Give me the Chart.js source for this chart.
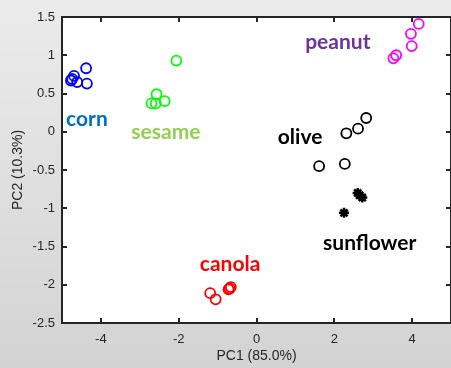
<!DOCTYPE html>
<html>
<head>
<meta charset="utf-8">
<script src="https://cdn.jsdelivr.net/npm/chart.js@4/dist/chart.umd.min.js"></script>
<style>
  html, body { margin: 0; padding: 0; background: #dcdcdc; }
  canvas { display: block; }
</style>
</head>
<body>
<canvas id="chart" width="451" height="368"></canvas>
<script>
// PCA scores (PC1, PC2)
var cornX = [-4.74, -4.69, -4.77, -4.61, -4.38, -4.36];
var cornY = [0.69, 0.73, 0.67, 0.65, 0.83, 0.63];
var sesameX = [-2.06, -2.70, -2.57, -2.59, -2.36];
var sesameY = [0.93, 0.37, 0.49, 0.37, 0.40];
var peanutX = [4.17, 3.97, 3.99, 3.59, 3.52];
var peanutY = [1.41, 1.28, 1.12, 1.0, 0.96];
var oliveX = [2.31, 2.61, 2.82, 1.61, 2.27];
var oliveY = [-0.02, 0.04, 0.18, -0.45, -0.42];
var sunflowerX = [2.6, 2.65, 2.72, 2.25];
var sunflowerY = [-0.8, -0.83, -0.86, -1.06];
var canolaX = [-1.19, -1.05, -0.72, -0.66, -0.69];
var canolaY = [-2.11, -2.19, -2.06, -2.03, -2.05];

// group names and where they sit (data coords, text centre / baseline)
var groupNames = ["corn", "sesame", "peanut", "olive", "sunflower", "canola"];
var groupColors = ["#0070c0", "#92d050", "#7030a0", "#000000", "#000000", "#ff0000"];
var labelX = [-4.36, -2.33, 2.09, 1.12, 2.91, -0.68];
var labelY = [0.08, -0.09, 1.08, -0.16, -1.55, -1.82];

var xTicks = [-4, -2, 0, 2, 4];
var yTicks = [-2.5, -2, -1.5, -1, -0.5, 0, 0.5, 1, 1.5];

function pts(xs, ys) {
  return xs.map((x, i) => ({ x: x, y: ys[i] }));
}

const bgPlugin = {
  id: "bg",
  beforeDraw(chart) {
    const c = chart.ctx;
    const a = chart.chartArea;
    const g = c.createLinearGradient(0, 0, 0, chart.height);
    g.addColorStop(0, "#ebebeb");
    g.addColorStop(1, "#d3d3d3");
    c.save();
    c.fillStyle = g;
    c.fillRect(0, 0, chart.width, chart.height);
    c.fillStyle = "#ffffff";
    c.fillRect(a.left, a.top, a.right - a.left, a.bottom - a.top);
    c.restore();
  },
};

// box with inward ticks, matlab style
const boxPlugin = {
  id: "box",
  afterDatasetsDraw(chart) {
    const c = chart.ctx;
    const a = chart.chartArea;
    const xs = chart.scales.x;
    const ys = chart.scales.y;
    c.save();
    c.strokeStyle = "#262626";
    c.lineWidth = 2;
    c.strokeRect(a.left, a.top, a.right - a.left, a.bottom - a.top);
    c.beginPath();
    xTicks.forEach((v) => {
      const px = Math.round(xs.getPixelForValue(v));
      c.moveTo(px, a.bottom);
      c.lineTo(px, a.bottom - 5);
      c.moveTo(px, a.top);
      c.lineTo(px, a.top + 5);
    });
    yTicks.forEach((v) => {
      const py = Math.round(ys.getPixelForValue(v));
      c.moveTo(a.left, py);
      c.lineTo(a.left + 5, py);
      c.moveTo(a.right, py);
      c.lineTo(a.right - 5, py);
    });
    c.stroke();
    c.restore();
  },
};

const labelPlugin = {
  id: "groupLabels",
  afterDatasetsDraw(chart) {
    const c = chart.ctx;
    const xs = chart.scales.x;
    const ys = chart.scales.y;
    c.save();
    c.font = "bold 21px Lato";
    c.textAlign = "center";
    c.textBaseline = "alphabetic";
    groupNames.forEach((name, i) => {
      c.fillStyle = groupColors[i];
      c.fillText(name, xs.getPixelForValue(labelX[i]), ys.getPixelForValue(labelY[i]));
    });
    c.restore();
  },
};

function circleSet(label, data, color) {
  return {
    label: label,
    data: data,
    pointStyle: "circle",
    pointRadius: 5,
    borderWidth: 1.8,
    borderColor: color,
    backgroundColor: "rgba(0,0,0,0)",
  };
}

const tickFont = { family: "Liberation Sans", size: 13 };

const myChart = new Chart(document.getElementById("chart").getContext("2d"), {
  type: "scatter",
  data: {
    datasets: [
      circleSet("corn", pts(cornX, cornY), "#0000ff"),
      circleSet("sesame", pts(sesameX, sesameY), "#00ff00"),
      circleSet("peanut", pts(peanutX, peanutY), "#ff00ff"),
      circleSet("olive", pts(oliveX, oliveY), "#000000"),
      {
        label: "sunflower",
        data: pts(sunflowerX, sunflowerY),
        pointStyle: "star",
        pointRadius: 5,
        borderWidth: 2.5,
        borderColor: "#000000",
        backgroundColor: "#000000",
      },
      circleSet("canola", pts(canolaX, canolaY), "#ff0000"),
    ],
  },
  options: {
    responsive: false,
    animation: false,
    devicePixelRatio: 1,
    layout: { autoPadding: false, padding: { top: 17, right: -1, left: 0, bottom: 0 } },
    plugins: { legend: { display: false }, tooltip: { enabled: false } },
    scales: {
      x: {
        type: "linear",
        min: -5,
        max: 5,
        afterBuildTicks: (s) => { s.ticks = xTicks.map((v) => ({ value: v })); },
        afterFit: (s) => { s.height = 45; s.paddingRight = 0; s.paddingLeft = 0; },
        grid: { display: false, drawTicks: false },
        border: { display: false },
        ticks: { font: tickFont, color: "#262626", padding: 9, maxRotation: 0, callback: (v) => String(v) },
        title: {
          display: true,
          text: "PC1 (85.0%)",
          font: { family: "Liberation Sans", size: 14 },
          color: "#262626",
          padding: { top: 0, bottom: 3 },
        },
      },
      y: {
        type: "linear",
        min: -2.5,
        max: 1.5,
        afterBuildTicks: (s) => { s.ticks = yTicks.map((v) => ({ value: v })); },
        afterFit: (s) => { s.width = 62; },
        grid: { display: false, drawTicks: false },
        border: { display: false },
        ticks: { font: tickFont, color: "#262626", padding: 7, callback: (v) => String(v) },
        title: {
          display: true,
          text: "PC2 (10.3%)",
          font: { family: "Liberation Sans", size: 14 },
          color: "#262626",
          padding: { top: 10, bottom: 0 },
        },
      },
    },
  },
  plugins: [bgPlugin, boxPlugin, labelPlugin],
});
</script>
</body>
</html>
